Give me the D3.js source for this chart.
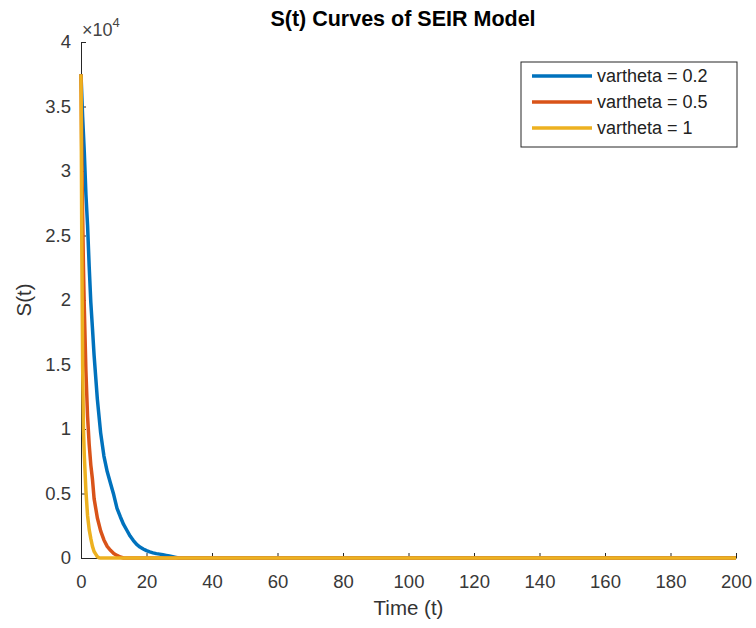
<!DOCTYPE html>
<html>
<head>
<meta charset="utf-8">
<script src="https://cdn.jsdelivr.net/npm/d3@7"></script>
<style>
  body { margin: 0; background: #fff; }
  text { font-family: "Liberation Sans", Arial, sans-serif; }
</style>
</head>
<body>
<script>
// size of the figure
var width = 756;
var height = 628;
var margin = {top: 42, right: 20, bottom: 70, left: 81};

// data (S values in people, t in days)
var seriesNames = ["vartheta = 0.2", "vartheta = 0.5", "vartheta = 1"];
var seriesColors = ["#0072BD", "#D95319", "#EDB120"];

var t02 = [0, 0.5, 1, 1.5, 2, 2.5, 3, 3.5, 4, 5, 6, 7, 8, 9, 10, 11, 12, 13, 14, 15,
           16, 17, 18, 19, 20, 21, 22, 23, 24, 25, 26, 27, 28, 29, 30, 200];
var s02 = [37500, 34200, 31500, 28200, 25800, 22600, 19800, 17800, 15700, 12300, 9700, 7900, 6700, 5800, 4900, 3850, 3200, 2600, 2150, 1700,
           1350, 1050, 850, 700, 570, 470, 400, 340, 300, 250, 200, 150, 100, 50, 0, 0];

var t05 = [0, 0.25, 0.5, 0.75, 1, 1.5, 2, 2.5, 3, 3.5, 4, 5, 6, 7, 8, 9, 10, 11, 12, 13, 200];
var s05 = [37500, 31000, 26500, 22500, 19500, 14500, 11000, 8800, 7200, 6100, 4600, 3100, 2100, 1400, 900, 600, 350, 200, 80, 0, 0];

var t1 = [0, 0.25, 0.5, 0.75, 1, 1.5, 2, 2.5, 3, 3.5, 4, 4.5, 5, 5.5, 6, 200];
var s1 = [37500, 24000, 15000, 10000, 8000, 5200, 3300, 2200, 1500, 900, 500, 300, 100, 20, 0, 0];

var xTicks = [0, 20, 40, 60, 80, 100, 120, 140, 160, 180, 200];
var yTicks = [0, 5000, 10000, 15000, 20000, 25000, 30000, 35000, 40000];

var seriesT = [t02, t05, t1];
var seriesS = [s02, s05, s1];

var svg = d3.select("body")
  .append("svg")
  .attr("width", width)
  .attr("height", height);

var x = d3.scaleLinear()
  .domain([0, 200])
  .range([margin.left, width - margin.right]);

var y = d3.scaleLinear()
  .domain([0, 40000])
  .range([height - margin.bottom, margin.top]);

// axes, MATLAB style ticks pointing inward
var xAxis = svg.append("g")
  .attr("transform", "translate(0," + (height - margin.bottom) + ")")
  .call(d3.axisBottom(x).tickValues(xTicks).tickSize(-5).tickPadding(17).tickSizeOuter(0));

var yAxis = svg.append("g")
  .attr("transform", "translate(" + margin.left + ",0)")
  .call(d3.axisLeft(y).tickValues(yTicks).tickSize(-5).tickPadding(10).tickSizeOuter(0)
    .tickFormat(d => d / 10000));

[xAxis, yAxis].forEach(g => {
  g.select(".domain").attr("stroke", "#262626");
  g.selectAll(".tick line").attr("stroke", "#262626");
  g.selectAll(".tick text")
    .attr("fill", "#383838")
    .style("font-size", "18.5px")
    .style("font-family", "'Liberation Sans', Arial, sans-serif");
});

// exponent label
var expo = svg.append("text")
  .attr("x", 82)
  .attr("y", 36)
  .attr("fill", "#444")
  .style("font-size", "18px");
expo.append("tspan").text("\u00d710");
expo.append("tspan").attr("dy", -9).style("font-size", "13px").text("4");

// lines
var line = d3.line()
  .x(d => x(d[0]))
  .y(d => y(d[1]));

for (var i = 0; i < seriesNames.length; i++) {
  var pts = seriesT[i].map((t, j) => [t, seriesS[i][j]]);
  svg.append("path")
    .datum(pts)
    .attr("fill", "none")
    .attr("stroke", seriesColors[i])
    .attr("stroke-width", 3.5)
    .attr("stroke-linejoin", "round")
    .attr("d", line);
}

// title and axis labels
svg.append("text")
  .attr("x", 403)
  .attr("y", 26)
  .attr("text-anchor", "middle")
  .attr("fill", "#000")
  .style("font-size", "21.5px")
  .style("font-weight", "bold")
  .text("S(t) Curves of SEIR Model");

svg.append("text")
  .attr("x", (margin.left + width - margin.right) / 2)
  .attr("y", 615)
  .attr("text-anchor", "middle")
  .attr("fill", "#333")
  .style("font-size", "20.5px")
  .text("Time (t)");

svg.append("text")
  .attr("transform", "translate(31," + ((margin.top + height - margin.bottom) / 2) + ") rotate(-90)")
  .attr("text-anchor", "middle")
  .attr("fill", "#333")
  .style("font-size", "20.5px")
  .text("S(t)");

// legend
var legend = svg.append("g");
legend.append("rect")
  .attr("x", 521)
  .attr("y", 62)
  .attr("width", 216)
  .attr("height", 85)
  .attr("fill", "#fff")
  .attr("stroke", "#262626")
  .attr("stroke-width", 1);

seriesNames.forEach((name, k) => {
  var ly = 76 + k * 26;
  legend.append("line")
    .attr("x1", 532).attr("x2", 592)
    .attr("y1", ly).attr("y2", ly)
    .attr("stroke", seriesColors[k])
    .attr("stroke-width", 3.5);
  legend.append("text")
    .attr("x", 597)
    .attr("y", ly)
    .attr("dy", "0.35em")
    .attr("fill", "#222")
    .style("font-size", "18px")
    .text(name);
});
</script>
</body>
</html>
